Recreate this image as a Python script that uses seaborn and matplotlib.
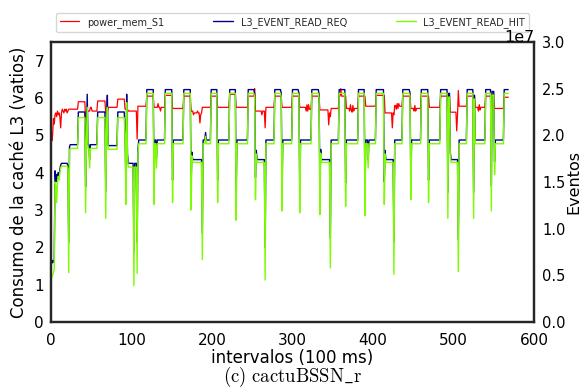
import numpy as np
import pandas as pd
import matplotlib
matplotlib.use("Agg")
import matplotlib.pyplot as plt
import seaborn as sns

# ---------------- data ----------------
# Run-length encoded samples (one sample per 100 ms interval):
# SEG_LEN[i] consecutive samples share REQ_M[i] / HIT_M[i] (units: 1e6 events)
SEG_LEN = [1, 1, 1, 1, 1, 1, 1, 1, 1, 1, 1, 1, 1, 8, 1, 1, 1, 10, 9, 1,
           1, 1, 2, 1, 9, 10, 1, 1, 1, 12, 9, 1, 1, 1, 1, 7, 1, 3, 1, 1,
           10, 9, 1, 2, 1, 10, 9, 1, 13, 9, 1, 1, 12, 1, 3, 1, 6, 8, 1, 14,
           8, 1, 14, 8, 1, 1, 1, 10, 1, 11, 8, 1, 1, 12, 8, 1, 1, 14, 9, 1,
           1, 1, 11, 1, 10, 8, 1, 15, 8, 1, 3, 1, 9, 10, 1, 1, 10, 1, 10, 9,
           1, 1, 12, 9, 1, 14, 9, 1, 2, 1, 9, 1, 10, 8, 1, 1, 13, 7, 1, 3,
           1, 11, 6]
REQ_M = [6.5, 6.3, 6.6, 6.4, 6.5, 16.2, 15.0, 15.8, 15.4, 16.0, 15.6, 16.4, 16.8, 17.0, 16.8, 8.5, 18.8, 19.0, 22.5, 14.5,
         20.0, 24.4, 19.0, 17.4, 19.0, 22.5, 14.0, 21.5, 24.3, 18.9, 22.5, 20.5, 15.0, 24.4, 18.0, 17.0, 7.5, 17.0, 8.5, 18.5,
         19.5, 24.9, 15.0, 19.5, 17.5, 19.5, 24.9, 15.2, 19.5, 24.9, 14.6, 18.2, 17.4, 9.5, 19.5, 20.3, 19.5, 24.9, 15.2, 19.5,
         24.9, 13.8, 19.5, 24.9, 24.5, 15.5, 18.4, 17.4, 8.0, 19.5, 24.9, 24.5, 14.5, 19.5, 24.9, 24.5, 14.4, 19.5, 24.9, 24.4,
         14.2, 18.5, 17.4, 9.0, 19.5, 24.9, 14.9, 19.5, 24.9, 14.1, 19.5, 17.4, 19.5, 24.9, 15.0, 18.4, 17.4, 8.6, 19.5, 24.9,
         24.5, 15.5, 19.5, 24.9, 15.2, 19.5, 24.9, 13.9, 24.5, 18.2, 17.4, 8.8, 19.5, 24.9, 13.9, 24.3, 19.5, 24.9, 14.6, 24.7,
         17.2, 19.5, 24.9]
HIT_M = [5.4, 4.8, 5.0, 5.3, 5.6, 15.0, 14.6, 12.8, 15.0, 15.6, 15.2, 16.0, 16.5, 16.7, 16.4, 5.3, 18.4, 18.6, 21.9, 11.7,
         19.5, 23.0, 18.6, 16.5, 18.6, 21.9, 11.1, 21.0, 23.0, 18.5, 21.9, 20.0, 12.6, 23.5, 17.6, 16.6, 3.9, 16.6, 5.2, 18.0,
         19.1, 24.5, 12.6, 19.1, 16.5, 19.1, 24.5, 12.8, 19.1, 24.5, 12.0, 17.8, 17.1, 6.7, 19.1, 19.9, 19.1, 24.5, 12.8, 19.1,
         24.5, 10.9, 19.1, 24.5, 24.0, 13.1, 18.0, 17.1, 4.5, 19.1, 24.5, 24.1, 11.9, 19.1, 24.5, 24.1, 11.7, 19.1, 24.5, 24.0,
         11.5, 18.1, 17.1, 5.8, 19.1, 24.5, 12.4, 19.1, 24.5, 11.4, 19.1, 16.5, 19.1, 24.5, 12.6, 18.0, 17.1, 5.1, 19.1, 24.5,
         24.1, 13.1, 19.1, 24.5, 12.8, 19.1, 24.5, 11.1, 24.1, 17.8, 17.1, 5.4, 19.1, 24.5, 11.1, 23.9, 19.1, 24.5, 11.9, 24.3,
         15.8, 19.1, 24.5]

# power_mem_S1 (watts), run-length encoded
PWR_LEN = [1] * 22 + [12, 9, 1, 1, 4, 2, 7, 10, 3, 12, 9, 4, 11, 1, 11, 9, 5, 1, 2, 1,
           5, 9, 14, 9, 3, 1, 4, 1, 2, 1, 1, 1, 11, 8, 15, 8, 15, 8, 1, 8,
           1, 3, 1, 11, 9, 13, 9, 8, 1, 1, 1, 1, 3, 10, 11, 1, 1, 1, 10, 2,
           1, 6, 4, 1, 1, 1, 1, 1, 1, 5, 9, 13, 11, 9, 1, 1, 1, 2, 1, 1,
           1, 1, 4, 10, 4, 1, 1, 1, 6, 10, 14, 12, 8, 1, 1, 1, 10, 10, 4, 1,
           1, 1, 6, 7, 1, 3, 12, 6]
PWR_W = [5.35, 4.85, 5.0, 5.45, 5.3, 5.55, 5.6, 5.5, 5.65, 5.55, 5.6, 5.5, 5.2, 5.6, 5.7, 5.65, 5.6, 5.7, 5.65, 5.7,
         5.6, 5.65,
         5.7, 5.9, 5.45, 5.5, 5.65, 5.75, 5.65, 5.92, 5.6, 5.75, 5.97, 5.7, 5.65, 4.9, 5.78, 6.05, 5.75, 5.85, 5.75, 5.65,
         5.75, 6.07, 5.72, 6.05, 5.65, 5.55, 5.6, 5.65, 5.6, 5.33, 5.55, 5.6, 5.75, 6.05, 5.75, 6.1, 5.75, 6.05, 6.25, 5.65,
         5.55, 5.65, 5.2, 5.75, 6.05, 5.75, 6.05, 5.75, 5.65, 5.82, 5.65, 5.82, 5.7, 6.05, 5.68, 5.28, 5.6, 5.5, 5.72, 6.05,
         6.25, 6.05, 5.72, 5.65, 5.82, 5.68, 5.62, 5.8, 5.65, 5.72, 6.05, 5.78, 6.07, 5.6, 5.2, 5.6, 5.55, 5.8, 5.7, 5.85,
         5.72, 5.85, 5.78, 6.05, 5.72, 5.65, 5.8, 5.65, 5.72, 6.05, 5.75, 6.05, 5.62, 5.12, 5.55, 6.2, 5.78, 6.05, 5.75, 5.65,
         5.82, 5.68, 5.75, 6.05, 5.38, 6.05, 5.72, 6.02]

LEFT_TICKS = [0, 1, 2, 3, 4, 5, 6, 7]
RIGHT_TICKS = [0.0, 0.5, 1.0, 1.5, 2.0, 2.5, 3.0]
X_TICKS = [0, 100, 200, 300, 400, 500, 600]

# ---------------- build tables ----------------
req = np.repeat(np.array(REQ_M) * 1e6, SEG_LEN)
hit = np.repeat(np.array(HIT_M) * 1e6, SEG_LEN)
pwr = np.repeat(np.array(PWR_W), PWR_LEN)
ev = pd.DataFrame({"intervalo": np.arange(len(req)), "req": req, "hit": hit})
pw = pd.DataFrame({"intervalo": np.arange(len(pwr)), "power": pwr})

# ---------------- style ----------------
sns.set_theme(style="white")
plt.rcParams["font.family"] = ["DejaVu Sans"]
plt.rcParams["mathtext.fontset"] = "cm"

W, H = 585, 388
fig = plt.figure(figsize=(W / 100, H / 100), dpi=100)
L, R, T, B = 51, 534, 42, 322
ax = fig.add_axes([L / W, 1 - B / H, (R - L) / W, (B - T) / H])
ax2 = ax.twinx()

sns.lineplot(data=pw, x="intervalo", y="power", ax=ax, color="red", linewidth=0.9,
             label="power_mem_S1", legend=False, estimator=None, sort=False)
sns.lineplot(data=ev, x="intervalo", y="req", ax=ax2, color="darkblue", linewidth=1.0,
             label="L3_EVENT_READ_REQ", legend=False, estimator=None, sort=False)
sns.lineplot(data=ev, x="intervalo", y="hit", ax=ax2, color="lawngreen", linewidth=1.0,
             label="L3_EVENT_READ_HIT", legend=False, estimator=None, sort=False)

ax.set_xlim(0, 600)
ax.set_ylim(0, 7.5)
ax2.set_ylim(0, 3.0e7)
ax.set_xticks(X_TICKS)
ax.set_yticks(LEFT_TICKS)
ax2.set_yticks([v * 1e7 for v in RIGHT_TICKS])
ax2.set_yticklabels([f"{v:.1f}" for v in RIGHT_TICKS])

for a in (ax, ax2):
    a.tick_params(length=0, labelsize=11, colors="black")
    for s in a.spines.values():
        s.set_color("#262626")
        s.set_linewidth(1.6)
ax.tick_params(axis="x", pad=8)
ax.tick_params(axis="y", pad=5)
ax2.tick_params(axis="y", pad=6, labelsize=10.5)

# scale marker of the right axis, just above its top-right corner
fig.text(R / W, 1 - 41.5 / H, "1e7", ha="right", va="baseline", fontsize=11.5, color="black")

ax.set_xlabel("intervalos (100 ms)", fontsize=12, color="black")
ax.set_ylabel("Consumo de la caché L3 (vatios)", fontsize=12, color="black")
ax2.set_ylabel("Eventos", fontsize=11.5, color="black")
ax.xaxis.set_label_coords(0.5, -0.095)
ax.yaxis.set_label_coords(-0.047, 0.5)
ax2.yaxis.set_label_coords(1.068, 0.5)

h1, l1 = ax.get_legend_handles_labels()
h2, l2 = ax2.get_legend_handles_labels()
leg = ax2.legend(h1 + h2, l1 + l2, loc="lower left", bbox_to_anchor=(0, 1.02, 1, 0.102),
                 mode="expand", ncol=3, fontsize=7, frameon=True, borderaxespad=0.5)
leg.get_frame().set_edgecolor("0.8")

fig.text((L + R) / 2 / W, 1 - 377 / H, r"$\mathrm{(c)\ cactuBSSN\_r}$",
         ha="center", va="center", fontsize=13.5, color="black")

fig.savefig("out.png", dpi=100)
